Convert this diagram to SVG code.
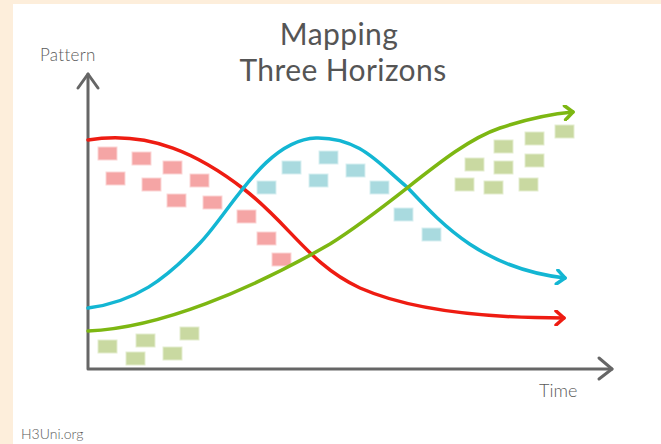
<svg xmlns="http://www.w3.org/2000/svg" width="661" height="444" viewBox="0 0 661 444">
<style>
.txt{font-family:Lato,"Open Sans","Liberation Sans",sans-serif;fill:#5a5a5a;font-weight:300}
.ttl{font-family:Lato,"Open Sans","Liberation Sans",sans-serif;fill:#555555;font-weight:400;font-size:30px;letter-spacing:0.4px}
.axis{fill:none;stroke:#666;stroke-width:3;stroke-linecap:round;stroke-linejoin:round}
.curve{fill:none;stroke-width:3.5;stroke-linecap:round}
.pink{fill:#f5a5a5;stroke:#fbd6d6;stroke-width:1}
.cyan{fill:#a9dadf;stroke:#d8eff1;stroke-width:1}
.lime{fill:#c9d9a1;stroke:#e4edcf;stroke-width:1}
</style>
<defs>
<marker id="arR" markerUnits="userSpaceOnUse" markerWidth="16" markerHeight="16" refX="10" refY="8" orient="auto" viewBox="0 0 12 16"><path d="M2,1 L10,8 L2,15" fill="none" stroke="#ee1c12" stroke-width="3.5" stroke-linecap="round" stroke-linejoin="round"/></marker>
<marker id="arB" markerUnits="userSpaceOnUse" markerWidth="16" markerHeight="16" refX="10" refY="8" orient="auto" viewBox="0 0 12 16"><path d="M2,1 L10,8 L2,15" fill="none" stroke="#13b6d3" stroke-width="3.5" stroke-linecap="round" stroke-linejoin="round"/></marker>
<marker id="arG" markerUnits="userSpaceOnUse" markerWidth="16" markerHeight="16" refX="10" refY="8" orient="auto" viewBox="0 0 12 16"><path d="M2,1 L10,8 L2,15" fill="none" stroke="#7db712" stroke-width="3.5" stroke-linecap="round" stroke-linejoin="round"/></marker>
</defs>
<rect x="0" y="0" width="661" height="444" fill="#fdeedb"/>
<rect x="13" y="4" width="648" height="440" fill="#ffffff"/>

<g id="title">
<text class="ttl" x="339" y="45" text-anchor="middle">Mapping</text>
<text class="ttl" x="343" y="81" text-anchor="middle">Three Horizons</text>
</g>

<g id="axes">
<path class="axis" d="M88,74 L88,369 L612,369"/>
<path class="axis" d="M78,88 L88,74 L98,88"/>
<path class="axis" d="M599,358 L612,369 L599,379"/>
<text class="txt" x="40" y="61" font-size="17" letter-spacing="0.3">Pattern</text>
<text class="txt" x="539" y="397" font-size="18">Time</text>
</g>

<g id="h1-notes">
<rect class="pink" x="98" y="147" width="19" height="13"/>
<rect class="pink" x="132" y="152" width="19" height="13"/>
<rect class="pink" x="163" y="161" width="19" height="13"/>
<rect class="pink" x="106" y="172" width="19" height="13"/>
<rect class="pink" x="142" y="178" width="19" height="13"/>
<rect class="pink" x="190" y="174" width="19" height="13"/>
<rect class="pink" x="167" y="194" width="19" height="13"/>
<rect class="pink" x="203" y="196" width="19" height="13"/>
<rect class="pink" x="237" y="210" width="19" height="13"/>
<rect class="pink" x="257" y="232" width="19" height="13"/>
<rect class="pink" x="272" y="253" width="19" height="13"/>
</g>

<g id="h2-notes">
<rect class="cyan" x="257" y="181" width="19" height="13"/>
<rect class="cyan" x="282" y="161" width="19" height="13"/>
<rect class="cyan" x="309" y="174" width="19" height="13"/>
<rect class="cyan" x="319" y="151" width="19" height="13"/>
<rect class="cyan" x="346" y="164" width="19" height="13"/>
<rect class="cyan" x="370" y="181" width="19" height="13"/>
<rect class="cyan" x="394" y="208" width="19" height="13"/>
<rect class="cyan" x="422" y="228" width="19" height="13"/>
</g>

<g id="h3-notes">
<rect class="lime" x="455" y="178" width="19" height="13"/>
<rect class="lime" x="484" y="181" width="19" height="13"/>
<rect class="lime" x="519" y="178" width="19" height="13"/>
<rect class="lime" x="465" y="158" width="19" height="13"/>
<rect class="lime" x="494" y="161" width="19" height="13"/>
<rect class="lime" x="525" y="154" width="19" height="13"/>
<rect class="lime" x="494" y="140" width="19" height="13"/>
<rect class="lime" x="525" y="132" width="19" height="13"/>
<rect class="lime" x="555" y="125" width="19" height="13"/>
<rect class="lime" x="98" y="340" width="19" height="13"/>
<rect class="lime" x="126" y="352" width="19" height="13"/>
<rect class="lime" x="136" y="334" width="19" height="13"/>
<rect class="lime" x="163" y="347" width="19" height="13"/>
<rect class="lime" x="180" y="327" width="19" height="13"/>
</g>

<g id="connectors">
<path class="curve" stroke="#ee1c12" marker-end="url(#arR)" d="M88,140 C150,130 200,155 245,190 C290,225 310,265 360,288 C410,310 480,318 564,318"/>
<path class="curve" stroke="#13b6d3" marker-end="url(#arB)" d="M88,308 C135,302 165,280 200,243 C230,212 265,140 316,138 C360,137 380,165 407,187 C440,222 480,268 565,278"/>
<path class="curve" stroke="#7db712" marker-end="url(#arG)" d="M88,331 C160,328 250,290 330,244 C400,200 450,145 500,128 C530,118 550,114 573,112"/>
</g>

<text class="txt" x="21" y="439" font-size="14">H3Uni.org</text>
</svg>
